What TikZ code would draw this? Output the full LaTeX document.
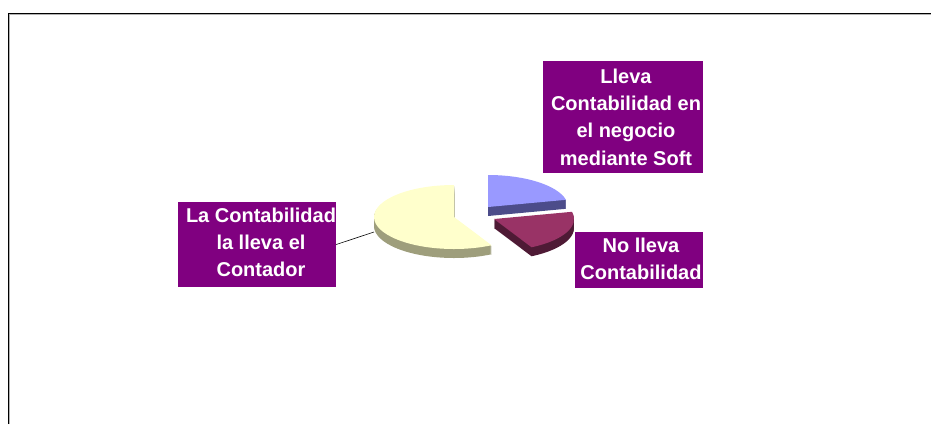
\documentclass[tikz,border=0pt]{standalone}
\usepackage{fontspec}
\setmainfont{Liberation Sans}

\definecolor{morado}{HTML}{800080}
\definecolor{amarillo}{HTML}{FFFFCC}
\definecolor{amarilloSombra}{HTML}{9E9E7C}
\definecolor{azul}{HTML}{9999FF}
\definecolor{azulSombra}{HTML}{4C4C8A}
\definecolor{granate}{HTML}{993366}
\definecolor{granateSombra}{HTML}{4E1A35}

\begin{document}
\begin{tikzpicture}[x=1pt, y=-1pt]

% Estilos de las etiquetas
\tikzstyle{etiqueta}=[rectangle, fill=morado, inner sep=0pt]
\tikzstyle{texto}=[text=white, align=center, inner sep=0pt, font=\bfseries\fontsize{20}{27.3}\selectfont]

\useasboundingbox (0,0) rectangle (931,424);

% Marco del grafico
\draw[gray!60, line width=1pt] (9,424) -- (9,14.5) -- (931,14.5);
\draw[line width=1pt] (8,424) -- (8,13) -- (931,13);

% Sectores: centro, angulos, color de arriba y del lado
\foreach \cx/\cy/\a/\b/\arriba/\lado in {454/217/-90/-298/amarillo/amarilloSombra,
    488/207/-13/-90/azul/azulSombra, 494/219/62/-13/granate/granateSombra}{
  \foreach \d in {1,...,9}
    \fill[\lado] (\cx,\cy+\d) -- +(\a:80 and 32) arc[start angle=\a, end angle=\b, x radius=80, y radius=32] -- cycle;
  \fill[\arriba] (\cx,\cy) -- +(\a:80 and 32) arc[start angle=\a, end angle=\b, x radius=80, y radius=32] -- cycle;
}

% Etiquetas
\node[etiqueta, minimum width=160, minimum height=112, path picture={
    \node[texto] at ([xshift=3pt]path picture bounding box.center) {Lleva\\Contabilidad en\\el negocio\\mediante Soft};}]
    (soft) at (623,117) {};
\node[etiqueta, minimum width=128, minimum height=56, path picture={
    \node[texto] at ([xshift=2pt, yshift=1.5pt]path picture bounding box.center) {No lleva\\Contabilidad};}]
    (nolleva) at (639,260) {};
\node[etiqueta, minimum width=158, minimum height=85, path picture={
    \node[texto] at ([xshift=4pt, yshift=2pt]path picture bounding box.center) {La Contabilidad\\la lleva el\\Contador};}]
    (contador) at (257,244.5) {};

% Linea guia
\coordinate (bordeAmarillo) at (374,232);
\draw[line width=0.6pt] (contador.east) -- (bordeAmarillo);

\end{tikzpicture}
\end{document}
